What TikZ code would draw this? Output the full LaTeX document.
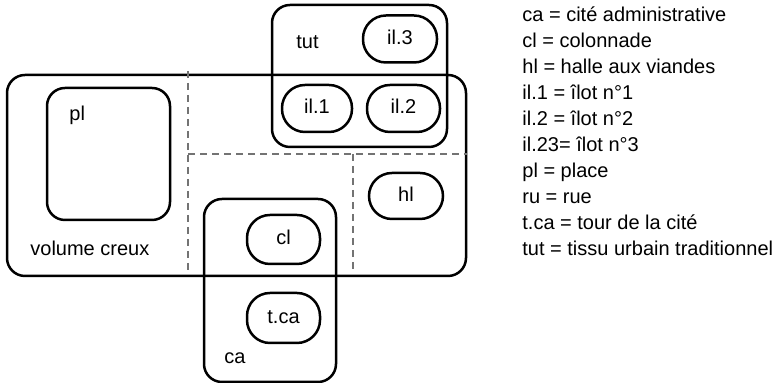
\documentclass[tikz,border=0pt]{standalone}
\usepackage{fontspec}
\setmainfont{Liberation Sans}
\usetikzlibrary{calc}

\tikzset{
	zone/.style={draw, line width=1.25pt, rounded corners=9pt, inner sep=0pt},
	ilot/.style={draw, line width=1.25pt, rounded corners=11.5pt, minimum width=36.5pt, minimum height=23.5pt},
	limite/.style={gray!90!black, line width=0.6pt, dash pattern=on 3.5pt off 2.5pt},
	txt/.style={font=\fontsize{10}{12}\selectfont, text height=7.2pt, text depth=2pt, inner sep=0pt}
}

\begin{document}
\begin{tikzpicture}[x=0.5pt, y=-0.5pt]
		\useasboundingbox (0,0) rectangle (778,383);
		% grandes zones
		\node[zone, minimum width=229.5pt, minimum height=100.5pt] (vc) at (236.5,175.5) {};
		\node[zone, minimum width=87.5pt, minimum height=71pt] (tut) at (359.5,76) {};
		\node[zone, minimum width=61.5pt, minimum height=66pt] (pl) at (108.5,154) {};
		\node[zone, minimum width=66pt, minimum height=91.5pt] (ca) at (270,290.5) {};

		\node[txt, anchor=west] (vclbl) at (30,250) {volume creux};
		\node[txt, anchor=west] (tutlbl) at (296,43) {tut};
		\node[txt, anchor=west] (pllbl) at (69,115) {pl};
		\node[txt, anchor=west] (calbl) at (224,358) {ca};

		% ilots
		\node[ilot, txt, minimum width=37pt] (il3) at (400,39) {il.3};
		\node[ilot, txt, minimum width=35pt] (il1) at (317,108.5) {il.1};
		\node[ilot, txt] (il2) at (403.5,108.5) {il.2};
		\node[ilot, txt, minimum width=37pt, minimum height=23pt] (hl) at (406,196) {hl};
		\node[ilot, txt, minimum height=24.5pt] (cl) at (283.5,239.5) {cl};
		\node[ilot, txt, minimum height=25pt] (tca) at (283.5,318) {t.ca};

		% limites
		\coordinate (k1) at (188,154);
		\draw[limite] (188,71) -- (188,273);
		\draw[limite] (k1) -- (k1 -| vc.east);
		\draw[limite] (353,154) -- (353,270);

		\foreach \t [count=\i] in {ca = cité administrative, cl = colonnade, hl = halle aux viandes, il.1 = îlot n°1, il.2 = îlot n°2, il.23= îlot n°3, pl = place, ru = rue, t.ca = tour de la cité, tut = tissu urbain traditionnel}
			\node[txt, anchor=west] (leg\i) at (522,{16+26*(\i-1)}) {\t};
	\end{tikzpicture}
\end{document}
